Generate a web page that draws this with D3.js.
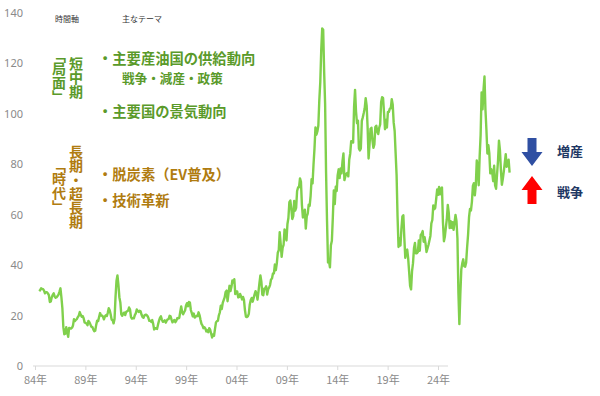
<!DOCTYPE html>
<html>
<head>
<meta charset="utf-8">
<script src="https://cdn.jsdelivr.net/npm/d3@7/dist/d3.min.js"></script>
<style>
  html, body { margin: 0; padding: 0; background: #fff; }
  svg { display: block; font-family: "Noto Sans CJK JP", "Noto Sans", sans-serif; }
  .vert { writing-mode: vertical-rl; font-weight: bold; font-size: 14px; }
  .vpal { font-feature-settings: "vpal"; }
</style>
</head>
<body>
<svg id="chart" width="600" height="396"></svg>
<script>
// ---- data (WTI monthly average, USD/bbl, Jan 1984 - Aug 2024) ----
const startYear = 1984;
const monthlyPrice = [
  // 1984
  29.7,30.1,30.8,30.6,30.5,29.9,28.8,29.3,29.3,28.8,28.1,25.4,
  // 1985
  25.6,27.3,28.2,28.8,27.6,27.1,27.3,27.8,28.3,29.5,30.8,27.2,
  // 1986
  22.9,15.4,12.6,12.8,15.4,13.5,11.6,15.1,14.9,14.9,15.2,16.1,
  // 1987
  18.6,17.8,18.3,18.6,19.4,20.0,21.4,20.3,19.5,19.8,18.9,17.3,
  // 1988
  17.1,16.8,16.2,17.9,17.4,16.5,15.5,15.5,14.5,13.8,14.0,16.3,
  // 1989
  18.0,17.8,19.4,21.0,20.0,20.0,19.6,18.5,19.6,20.1,19.8,21.1,
  // 1990
  22.9,22.1,20.4,18.4,18.2,16.9,18.6,27.2,33.7,35.9,32.3,27.3,
  // 1991
  25.2,20.5,19.9,20.8,21.2,20.2,21.4,21.7,21.9,23.2,22.5,19.5,
  // 1992
  18.8,19.0,18.9,20.2,20.9,22.4,21.8,21.4,21.9,21.7,20.3,19.4,
  // 1993
  19.1,20.1,20.3,20.3,19.9,19.1,17.9,18.0,17.5,18.2,16.7,14.5,
  // 1994
  15.0,14.8,14.7,16.4,17.9,19.1,19.7,18.4,17.5,17.7,18.1,17.2,
  // 1995
  18.0,18.5,18.6,19.9,19.7,18.4,17.3,18.0,18.2,17.4,18.0,19.0,
  // 1996
  18.9,19.1,21.4,23.6,21.3,20.5,21.3,22.0,24.0,24.9,23.7,25.4,
  // 1997
  25.2,22.2,21.0,19.7,20.8,19.2,19.6,19.9,19.8,21.3,20.2,18.3,
  // 1998
  16.7,16.1,15.0,15.4,14.9,13.7,14.2,13.4,15.0,14.4,12.9,11.3,
  // 1999
  12.5,12.0,14.7,17.3,17.8,17.9,20.1,21.3,23.9,22.6,25.0,26.1,
  // 2000
  27.2,29.4,29.9,25.7,28.8,31.8,29.7,31.3,33.9,33.1,34.4,28.5,
  // 2001
  29.6,29.6,27.2,27.4,28.6,27.6,26.4,27.4,26.2,22.2,19.6,19.4,
  // 2002
  19.7,20.7,24.4,26.2,27.0,25.5,26.9,28.4,29.7,28.8,26.3,29.4,
  // 2003
  32.9,35.9,33.5,28.3,28.1,30.7,30.8,31.6,28.3,30.3,31.1,32.1,
  // 2004
  34.3,34.7,36.7,36.7,40.3,38.0,40.7,44.9,45.9,53.1,48.5,43.3,
  // 2005
  46.8,48.0,54.2,53.0,49.8,56.3,58.7,65.0,65.6,62.4,58.3,59.4,
  // 2006
  65.5,61.6,62.7,69.4,70.8,70.9,74.4,73.0,63.8,58.9,59.1,62.0,
  // 2007
  54.5,59.3,60.4,64.0,63.5,67.5,74.1,72.4,79.9,86.2,94.6,91.7,
  // 2008
  93.0,95.4,105.5,112.6,125.4,133.9,133.4,116.7,104.1,76.6,57.3,41.1,
  // 2009
  41.7,39.1,47.9,49.7,59.0,69.6,64.2,71.1,69.4,75.7,78.0,74.5,
  // 2010
  78.3,76.4,81.2,84.3,73.7,75.3,76.3,76.6,75.2,81.9,84.3,89.2,
  // 2011
  89.2,88.6,102.9,109.5,100.9,96.3,97.3,86.3,85.5,86.3,97.2,98.6,
  // 2012
  100.3,102.2,106.2,103.3,94.7,82.3,87.9,94.1,94.5,89.5,86.5,87.9,
  // 2013
  94.8,95.3,92.9,92.0,94.5,95.8,104.6,106.6,106.3,100.5,93.9,97.6,
  // 2014
  94.6,100.8,100.8,102.1,102.2,105.8,103.6,96.5,93.2,84.4,75.8,59.3,
  // 2015
  47.2,50.6,47.8,54.5,59.3,59.8,50.9,42.9,45.5,46.2,42.7,37.3,
  // 2016
  31.8,30.4,37.6,40.8,46.7,48.8,44.7,44.7,45.2,49.8,45.7,52.0,
  // 2017
  52.5,53.5,49.3,51.1,48.5,45.2,46.6,48.0,49.8,51.6,56.6,57.9,
  // 2018
  63.7,62.2,62.7,66.3,70.0,67.9,71.0,68.1,70.2,70.8,57.0,49.5,
  // 2019
  51.4,55.0,58.2,63.9,60.8,54.7,57.4,54.8,57.0,54.0,57.0,59.9,
  // 2020
  57.5,50.5,29.2,16.6,28.6,38.3,40.7,42.3,39.6,39.4,41.0,47.0,
  // 2021
  52.0,59.0,62.3,61.7,65.2,71.4,72.5,67.7,71.6,81.5,79.2,71.7,
  // 2022
  83.2,91.6,108.5,101.8,109.6,114.8,101.6,93.7,84.3,87.6,84.4,76.4,
  // 2023
  78.1,76.8,73.3,79.4,71.6,70.3,76.0,81.4,89.4,85.6,77.7,71.9,
  // 2024
  74.2,77.2,80.6,84.0,79.0,79.8,81.8,76.7
];
const xTickLabels = ["84年","89年","94年","99年","04年","09年","14年","19年","24年"];
const yTicks = [0,20,40,60,80,100,120,140];

// annotation texts
const headerLabels = ["時間軸", "主なテーマ"];
const shortTermBracket = "「局面」";
const shortTermLabel = "短中期";
const shortTermThemes = ["・主要産油国の供給動向", "戦争・減産・政策", "・主要国の景気動向"];
const longTermBracket = "「時代」";
const longTermLabel = "長期・超長期";
const longTermThemes = ["・脱炭素（EV普及）", "・技術革新"];
const arrowLabels = ["増産", "戦争"];

// ---- drawing ----
const svg = d3.select("#chart");
const green = "#5a9a2a", brown = "#b07c10", navy = "#1f3864";

const x = d3.scaleLinear().domain([0, monthlyPrice.length - 1]).range([39.2, 509.6]);
const y = d3.scaleLinear().domain([0, 140]).range([366, 13]);
const xLab = d3.scalePoint().domain(xTickLabels).range([35, 438]);

// x axis baseline
svg.append("line")
  .attr("x1", 33).attr("x2", 448).attr("y1", y(0)).attr("y2", y(0))
  .attr("stroke", "#d9d9d9").attr("stroke-width", 1);

const gx = svg.append("g").attr("transform", `translate(0,${y(0)})`)
  .call(d3.axisBottom(xLab).tickSize(4).tickPadding(6));
gx.select(".domain").remove();
gx.selectAll(".tick line").attr("stroke", "#d9d9d9");
gx.selectAll(".tick text").attr("fill", "#8a8a8a").style("font-size", "11px")
  .style("font-family", "'Noto Sans CJK JP', sans-serif");

const gy = svg.append("g").attr("transform", "translate(23,0)")
  .call(d3.axisLeft(y).tickValues(yTicks).tickSize(0).tickPadding(0));
gy.select(".domain").remove();
gy.selectAll(".tick text").attr("fill", "#8a8a8a").style("font-size", "11px")
  .style("font-family", "'Noto Sans', sans-serif");

// price line
svg.append("path")
  .datum(monthlyPrice)
  .attr("fill", "none")
  .attr("stroke", "#80d04c")
  .attr("stroke-width", 2.4)
  .attr("stroke-linejoin", "round")
  .attr("d", d3.line().x((d, i) => x(i)).y(d => y(d)));

// header labels
svg.append("text").attr("x", 55).attr("y", 22).text(headerLabels[0])
  .style("font-size", "8px").attr("fill", "#333");
svg.append("text").attr("x", 122).attr("y", 22).text(headerLabels[1])
  .style("font-size", "8px").attr("fill", "#333");

function vertical(str, xc, yTop, color, cls) {
  svg.append("text")
    .attr("class", "vert " + (cls || ""))
    .attr("x", xc).attr("y", yTop)
    .attr("fill", color).text(str);
}

// short term block
vertical(shortTermBracket, 59, 55, green, "vpal");
vertical(shortTermLabel, 76, 56.5, green);
svg.append("text").attr("x", 98).attr("y", 64).text(shortTermThemes[0])
  .style("font-size", "14.3px").style("font-weight", "bold").attr("fill", green);
svg.append("text").attr("x", 122).attr("y", 83.2).text(shortTermThemes[1])
  .style("font-size", "12.6px").style("font-weight", "bold").attr("fill", green);
svg.append("text").attr("x", 98).attr("y", 117).text(shortTermThemes[2])
  .style("font-size", "14.3px").style("font-weight", "bold").attr("fill", green);

// long term block
vertical(longTermBracket, 59, 165, brown, "vpal");
vertical(longTermLabel, 76, 145, brown);
svg.append("text").attr("x", 98).attr("y", 180).text(longTermThemes[0])
  .style("font-size", "14.3px").style("font-weight", "bold").attr("fill", brown);
svg.append("text").attr("x", 98).attr("y", 205.5).text(longTermThemes[1])
  .style("font-size", "14.3px").style("font-weight", "bold").attr("fill", brown);

// arrows
svg.append("path")
  .attr("d", "M527.5,138 L536.5,138 L536.5,152 L542.5,152 L532,166 L521.5,152 L527.5,152 Z")
  .attr("fill", "#2f4fa2");
svg.append("path")
  .attr("d", "M532,176 L542.5,190 L536.5,190 L536.5,204 L527.5,204 L527.5,190 L521.5,190 Z")
  .attr("fill", "#ff0000");
svg.append("text").attr("x", 557).attr("y", 156).text(arrowLabels[0])
  .style("font-size", "13px").style("font-weight", "bold").attr("fill", navy);
svg.append("text").attr("x", 557).attr("y", 197).text(arrowLabels[1])
  .style("font-size", "13px").style("font-weight", "bold").attr("fill", navy);
</script>
</body>
</html>
